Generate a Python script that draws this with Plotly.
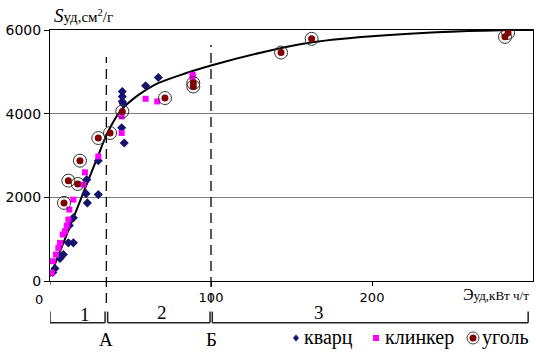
import plotly.graph_objects as go

# ---- data ----
curve_x = [0, 10, 20, 30, 35, 40, 45, 55, 65, 80, 100, 130, 160, 200, 240, 280, 300]
curve_y = [110, 1070, 2040, 3010, 3480, 3850, 4120, 4450, 4690, 4910, 5150, 5450, 5690, 5850, 5945, 5995, 6000]

quartz_x = [22.8, 22.4, 23.2, 30.0, 30.0, 45.5, 46.1, 44.5, 14.5, 11.4, 12.0, 14.5, 8.3, 6.2, 3.1, 1.7, 44.9, 44.9, 44.9, 59.4, 67.3]
quartz_y = [2423, 2088, 1867, 2065, 2876, 4237, 3299, 3664, 912, 912, 1325, 1509, 633, 537, 298, 203, 4531, 4411, 4292, 4667, 4865]

clinker_x = [44.5, 44.5, 30.0, 21.7, 20.7, 14.5, 12.0, 11.4, 9.3, 7.9, 6.2, 5.2, 3.7, 1.7, 1.1, 10.4, 59.4, 66.6, 88.6, 88.6]
clinker_y = [3538, 3934, 2979, 2597, 2303, 1945, 1707, 1468, 1189, 1110, 912, 792, 633, 473, 196, 1325, 4356, 4292, 4929, 4874]

coal_x = [8.7, 11.4, 17.2, 18.6, 30.0, 37.3, 44.9, 71.4, 89.0, 89.0, 143.5, 162.5, 282.6, 284.5]
coal_y = [1867, 2399, 2320, 2876, 3418, 3538, 4053, 4373, 4731, 4650, 5461, 5788, 5836, 5932]

x_ticks = [100, 200]
x_ticktext = ["100", "200"]
y_ticks = [0, 2000, 4000, 6000]

zone_bounds = [0, 35, 100, 297]   # 0, A, Б, end
zone_labels = ["1", "2", "3"]
zone_label_x = [21.7, 69.4, 167]
point_labels = ["А", "Б"]
legend_names = ["кварц", "клинкер", "уголь"]

NAVY = "#14146e"
MAG = "#ff00ff"
COAL = "#800000"
SERIF = "Liberation Serif"
SANS = "DejaVu Sans"

fig = go.Figure()
fig.add_trace(go.Scatter(x=curve_x, y=curve_y, mode="lines", line=dict(color="black", width=2, shape="spline", smoothing=1.0),
                         showlegend=False, hoverinfo="skip"))
fig.add_trace(go.Scatter(x=quartz_x, y=quartz_y, mode="markers", name=legend_names[0],
                         marker=dict(symbol="diamond", size=7, color=NAVY), showlegend=False))
fig.add_trace(go.Scatter(x=clinker_x, y=clinker_y, mode="markers", name=legend_names[1],
                         marker=dict(symbol="square", size=6, color=MAG), showlegend=False))
fig.add_trace(go.Scatter(x=coal_x, y=coal_y, mode="markers", name=legend_names[2],
                         marker=dict(symbol="circle-open", size=13, color="#333333", line=dict(width=1)), showlegend=False))
fig.add_trace(go.Scatter(x=coal_x, y=coal_y, mode="markers", name=legend_names[2],
                         marker=dict(symbol="circle", size=7, color=COAL), showlegend=False))

shapes = []
# tick mark at x = 0
shapes.append(dict(type="line", xref="x", yref="paper", x0=0, x1=0, y0=-0.016, y1=0, line=dict(color="black", width=1)))
# dashed vertical lines at A and Б
for xv, ytop in [(zone_bounds[1], 0.892), (zone_bounds[2], 0.940)]:
    shapes.append(dict(type="line", xref="x", yref="paper", x0=xv, x1=xv, y0=-0.088, y1=ytop,
                       line=dict(color="black", width=1.3, dash="10px,6px")))
# brackets below axis
yb, yt = -0.166, -0.122
segs = [(zone_bounds[0], zone_bounds[1] - 0.8), (zone_bounds[1] + 0.8, zone_bounds[2] - 0.6), (zone_bounds[2] + 0.8, zone_bounds[3])]
for a, b in segs:
    shapes.append(dict(type="line", xref="x", yref="paper", x0=a, x1=b, y0=yb, y1=yb, line=dict(color="#222", width=1.5)))
    shapes.append(dict(type="line", xref="x", yref="paper", x0=a, x1=a, y0=yb, y1=yt, line=dict(color="#222", width=1.5)))
    shapes.append(dict(type="line", xref="x", yref="paper", x0=b, x1=b, y0=yb, y1=yt, line=dict(color="#222", width=1.5)))

# custom legend symbols
ly = -0.227
shapes.append(dict(type="path", xref="paper", yref="paper", xsizemode="pixel", ysizemode="pixel",
                   xanchor=0.5093, yanchor=ly, path="M0,3.5 L3,0 L0,-3.5 L-3,0 Z",
                   fillcolor=NAVY, line=dict(width=0)))
shapes.append(dict(type="rect", xref="paper", yref="paper", xsizemode="pixel", ysizemode="pixel",
                   xanchor=0.675, yanchor=ly, x0=-3, x1=3, y0=-3, y1=3, fillcolor=MAG, line=dict(width=0)))
shapes.append(dict(type="circle", xref="paper", yref="paper", xsizemode="pixel", ysizemode="pixel",
                   xanchor=0.8758, yanchor=ly, x0=-6, x1=6, y0=-6, y1=6, line=dict(color="#444", width=1)))
shapes.append(dict(type="circle", xref="paper", yref="paper", xsizemode="pixel", ysizemode="pixel",
                   xanchor=0.8758, yanchor=ly, x0=-3.5, x1=3.5, y0=-3.5, y1=3.5, fillcolor=COAL, line=dict(width=0)))

ann = []
for lab, xv, yp in zip(zone_labels, zone_label_x, [-0.135, -0.127, -0.127]):
    ann.append(dict(text=lab, x=xv, y=yp, xref="x", yref="paper", showarrow=False,
                    font=dict(family=SERIF, size=19, color="black"), xanchor="center", yanchor="middle"))
for lab, xv in zip(point_labels, [zone_bounds[1], zone_bounds[2]]):
    ann.append(dict(text=lab, x=xv, y=-0.235, xref="x", yref="paper", showarrow=False,
                    font=dict(family=SERIF, size=19, color="black"), xanchor="center", yanchor="middle"))
for lab, xp in zip(legend_names, [0.5217, 0.6894, 0.8903]):
    ann.append(dict(text=lab, x=xp, y=ly, xref="paper", yref="paper", showarrow=False,
                    font=dict(family=SERIF, size=20, color="black"), xanchor="left", yanchor="middle"))
# axis titles
ann.append(dict(text="<span style='font-size:19px'><i>S</i></span>уд,см<sup>2</sup>/г", x=0.004, y=1.0, xref="paper", yref="paper",
                xanchor="left", yanchor="bottom", showarrow=False, yshift=2,
                font=dict(family=SERIF, size=15, color="black")))
ann.append(dict(text="<span style='font-size:16px'>Э</span>уд,кВт ч/т", x=1.0, y=-0.055, xref="paper", yref="paper",
                xanchor="right", yanchor="middle", showarrow=False, xshift=-2,
                font=dict(family=SERIF, size=13, color="black")))
ann.append(dict(text="0", x=0, y=-0.075, xref="x", yref="paper", xanchor="center", yanchor="middle",
                showarrow=False, xshift=-11, font=dict(family=SANS, size=13, color="black")))

fig.update_layout(
    width=536, height=356,
    margin=dict(l=50, r=3, t=30, b=75),
    paper_bgcolor="white", plot_bgcolor="white",
    showlegend=False,
    shapes=shapes, annotations=ann,
    xaxis=dict(range=[0, 300], tickvals=x_ticks, ticktext=x_ticktext, showgrid=False, zeroline=False,
               showline=True, mirror=True, linecolor="black", linewidth=1, ticks="outside", ticklen=4,
               tickcolor="black", tickfont=dict(family=SANS, size=13, color="black")),
    yaxis=dict(range=[0, 6000], tickvals=y_ticks, showgrid=True, gridcolor="#7f7f7f", gridwidth=1, zeroline=False,
               showline=True, mirror=True, linecolor="black", linewidth=1, ticks="outside", ticklen=5,
               tickcolor="black", tickfont=dict(family=SANS, size=14, color="black")),
)

fig.write_html("out.html")
